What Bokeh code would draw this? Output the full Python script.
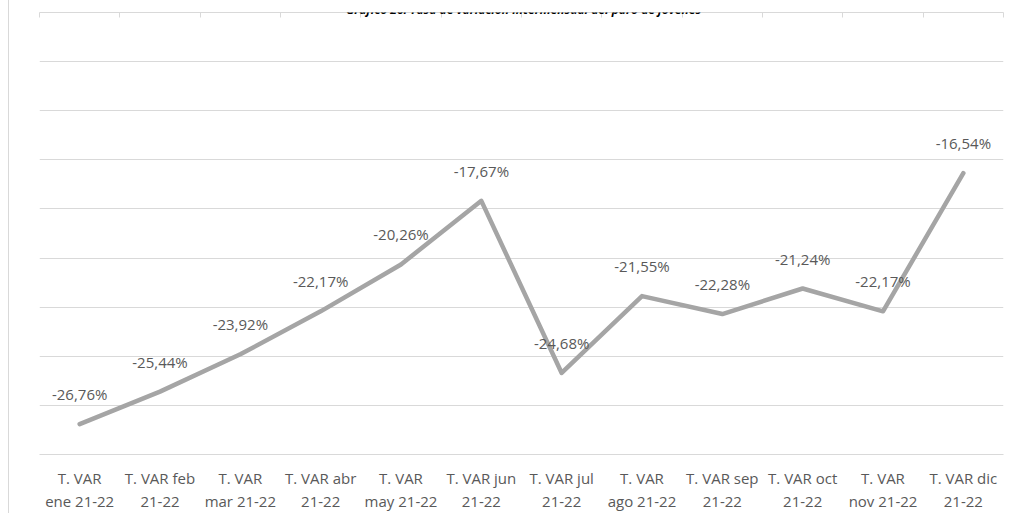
from bokeh.plotting import figure
from bokeh.models import (FactorRange, Range1d, FixedTicker, CategoricalAxis, Label,
                          ColumnDataSource, CustomJSTickFormatter)
from bokeh.embed import file_html
from bokeh.resources import INLINE
from bokeh.core.properties import value

# ---------------- data ----------------
categories = ["T. VAR ene 21-22", "T. VAR feb 21-22", "T. VAR mar 21-22", "T. VAR abr 21-22",
              "T. VAR may 21-22", "T. VAR jun 21-22", "T. VAR jul 21-22", "T. VAR ago 21-22",
              "T. VAR sep 21-22", "T. VAR oct 21-22", "T. VAR nov 21-22", "T. VAR dic 21-22"]
tick_line1 = ["T. VAR", "T. VAR feb", "T. VAR", "T. VAR abr", "T. VAR", "T. VAR jun",
              "T. VAR jul", "T. VAR", "T. VAR sep", "T. VAR oct", "T. VAR", "T. VAR dic"]
tick_line2 = ["ene 21-22", "21-22", "mar 21-22", "21-22", "may 21-22", "21-22",
              "21-22", "ago 21-22", "21-22", "21-22", "nov 21-22", "21-22"]
values = [-26.76, -25.44, -23.92, -22.17, -20.26, -17.67,
          -24.68, -21.55, -22.28, -21.24, -22.17, -16.54]
y_ticks = [-28, -26, -24, -22, -20, -18, -16, -14, -12, -10]
title_text = "Gráfico 26. Tasa de variación intermensual del paro de jóvenes"

labels = [f"{v:.2f}".replace(".", ",") + "%" for v in values]
src = ColumnDataSource(dict(cat=categories, val=values, lab=labels))

FONT = "Open Sans"
TXT = "#595959"
GRID = "#D9D9D9"

p = figure(width=1003, height=513, output_backend="svg", toolbar_location=None,
           x_range=FactorRange(*categories), y_range=Range1d(y_ticks[0], y_ticks[-1]),
           min_border_left=30, min_border_right=9, min_border_top=12, min_border_bottom=40)
p.margin = (0, 0, 0, 8)
p.styles = {"border-left": "1px solid #D9D9D9"}
p.outline_line_color = None
p.background_fill_color = "white"
p.border_fill_color = "white"

# y grid only
p.yaxis.ticker = FixedTicker(ticks=y_ticks)
p.ygrid.ticker = FixedTicker(ticks=y_ticks)
p.yaxis.visible = False
p.ygrid.grid_line_color = GRID
p.ygrid.grid_line_width = 1
p.xgrid.grid_line_color = None

JS = "const i = cats.indexOf(tick); return i >= 0 ? labs[i] : String(tick);"

# bottom axis: first line of labels (its line is the lowest gridline)
ax1 = p.xaxis[0]
ax1.formatter = CustomJSTickFormatter(args=dict(cats=categories, labs=tick_line1), code=JS)
ax1.axis_line_color = GRID
ax1.axis_line_width = 1
ax1.major_tick_line_color = None
ax1.major_tick_out = 0
ax1.major_tick_in = 0
ax1.major_label_standoff = 13
ax1.major_label_text_font = FONT
ax1.major_label_text_font_size = "15px"
ax1.major_label_text_color = TXT

# bottom axis: second line of labels
ax2 = CategoricalAxis(axis_line_color=None, major_tick_line_color=None,
                      major_tick_out=0, major_tick_in=0, major_label_standoff=0,
                      major_label_text_font=FONT, major_label_text_font_size="15px",
                      major_label_text_color=TXT,
                      formatter=CustomJSTickFormatter(args=dict(cats=categories, labs=tick_line2),
                                                      code=JS))
p.add_layout(ax2, "below")

# top axis with tick marks at the category boundaries
top = CategoricalAxis(ticker=FixedTicker(ticks=list(range(len(categories) + 1))),
                      axis_line_color=GRID, major_tick_line_color=GRID,
                      major_tick_in=5, major_tick_out=0, major_label_text_font_size="0px",
                      major_label_text_color=None, major_label_standoff=0)
p.add_layout(top, "above")

# series line
p.line("cat", "val", source=src, line_color="#A5A5A5", line_width=4.5,
       line_join="round", line_cap="round")

# data labels
p.text("cat", "val", text="lab", source=src, y_offset=-30, text_align="center",
       text_baseline="middle", text_font=value(FONT), text_font_size="15px", text_color=TXT)

# title
p.add_layout(Label(x=6.025, y=-9.874, text=title_text, text_align="center",
                   text_baseline="alphabetic", text_font=FONT, text_font_size="12px",
                   text_font_style="bold italic", text_color="black"))

open("out.html", "w").write(file_html(p, INLINE))
